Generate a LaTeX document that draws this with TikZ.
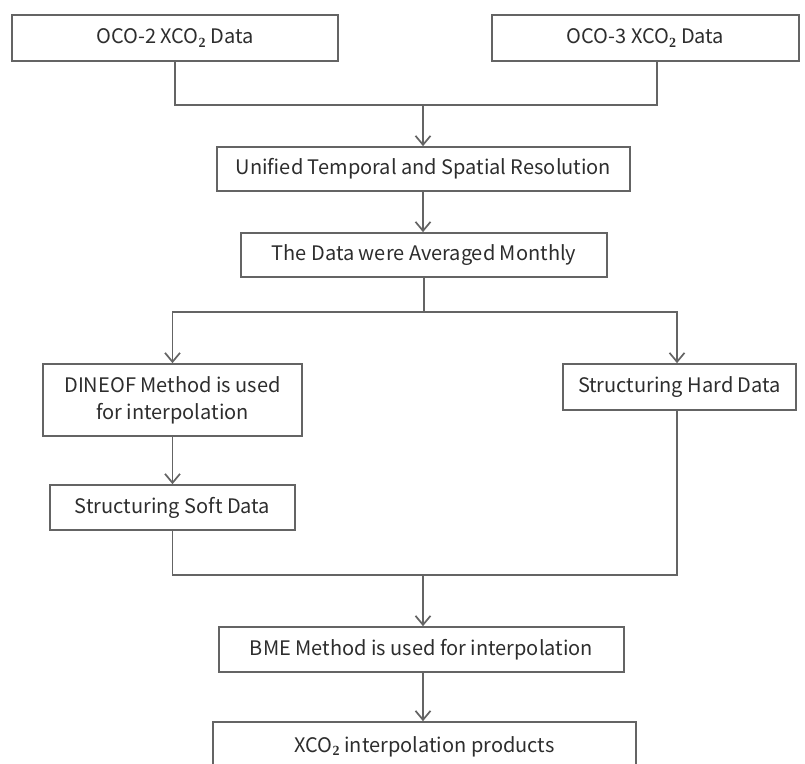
\documentclass[tikz,border=0pt]{standalone}
\usepackage{fontspec}
\setmainfont{Noto Sans CJK SC}
\usetikzlibrary{arrows.meta,calc}
\definecolor{ln}{RGB}{100,100,100}
\definecolor{tx}{RGB}{45,45,45}
\tikzset{
  box/.style={draw=ln, line width=1.7pt, rectangle, inner sep=0pt, align=center, text=tx, font=\fontsize{20}{27}\selectfont},
  conn/.style={draw=ln, line width=1.7pt},
  arr/.style={conn, -{Straight Barb[length=9pt,width=15pt,line width=1.7pt]}}
}
\newcommand{\sub}{\textsubscript{\textbf{\fontspec{Liberation Serif}2}}}
\begin{document}
\begin{tikzpicture}[x=1pt,y=-1pt]
\useasboundingbox (0,0) rectangle (805,763);
\clip (0,0) rectangle (805,763);
\node[box, minimum width=326pt, minimum height=46pt] (o2) at (175,38) {OCO-2 XCO\sub{} Data};
\node[box, minimum width=307pt, minimum height=46pt] (o3) at (645.5,38) {OCO-3 XCO\sub{} Data};
\node[box, minimum width=413pt, minimum height=44pt] (uni) at (423.5,169) {Unified Temporal and Spatial Resolution};
\node[box, minimum width=366pt, minimum height=44pt] (avg) at (424,255) {The Data were Averaged Monthly};
\node[box, minimum width=259pt, minimum height=72pt] (din) at (172.5,400) {DINEOF Method is used\\for interpolation};
\node[box, minimum width=233pt, minimum height=46pt] (hard) at (679.5,387) {Structuring Hard Data};
\node[box, minimum width=245pt, minimum height=45pt] (soft) at (172.5,507.5) {Structuring Soft Data};
\node[box, minimum width=405pt, minimum height=45pt] (bme) at (421.5,649.5) {BME Method is used for interpolation};
\node[box, minimum width=423pt, minimum height=50pt] (prod) at (424.5,747) {XCO\sub{} interpolation products};
\coordinate (m1) at (423,105);
\coordinate (m2) at (424,312);
\coordinate (m3) at (423,575);
% top merge
\draw[conn] (o2.south) |- (m1) -| ([xshift=11.5pt]o3.south);
\draw[arr] (m1) -- (m1 |- uni.north);
\draw[arr] (uni.south -| m1) -- (avg.north -| m1);
% split
\draw[conn] (avg.south -| m2) -- (m2);
\draw[arr] (m2) -| (din.north);
\draw[arr] (m2) -| ([xshift=-2.5pt]hard.north);
\draw[arr] (din) -- (soft);
% bottom merge
\draw[conn] (soft.south) |- (m3) -| ([xshift=-2.5pt]hard.south);
\draw[arr] (m3) -- (m3 |- bme.north);
\draw[arr] (bme.south -| m3) -- (prod.north -| m3);
\end{tikzpicture}
\end{document}
